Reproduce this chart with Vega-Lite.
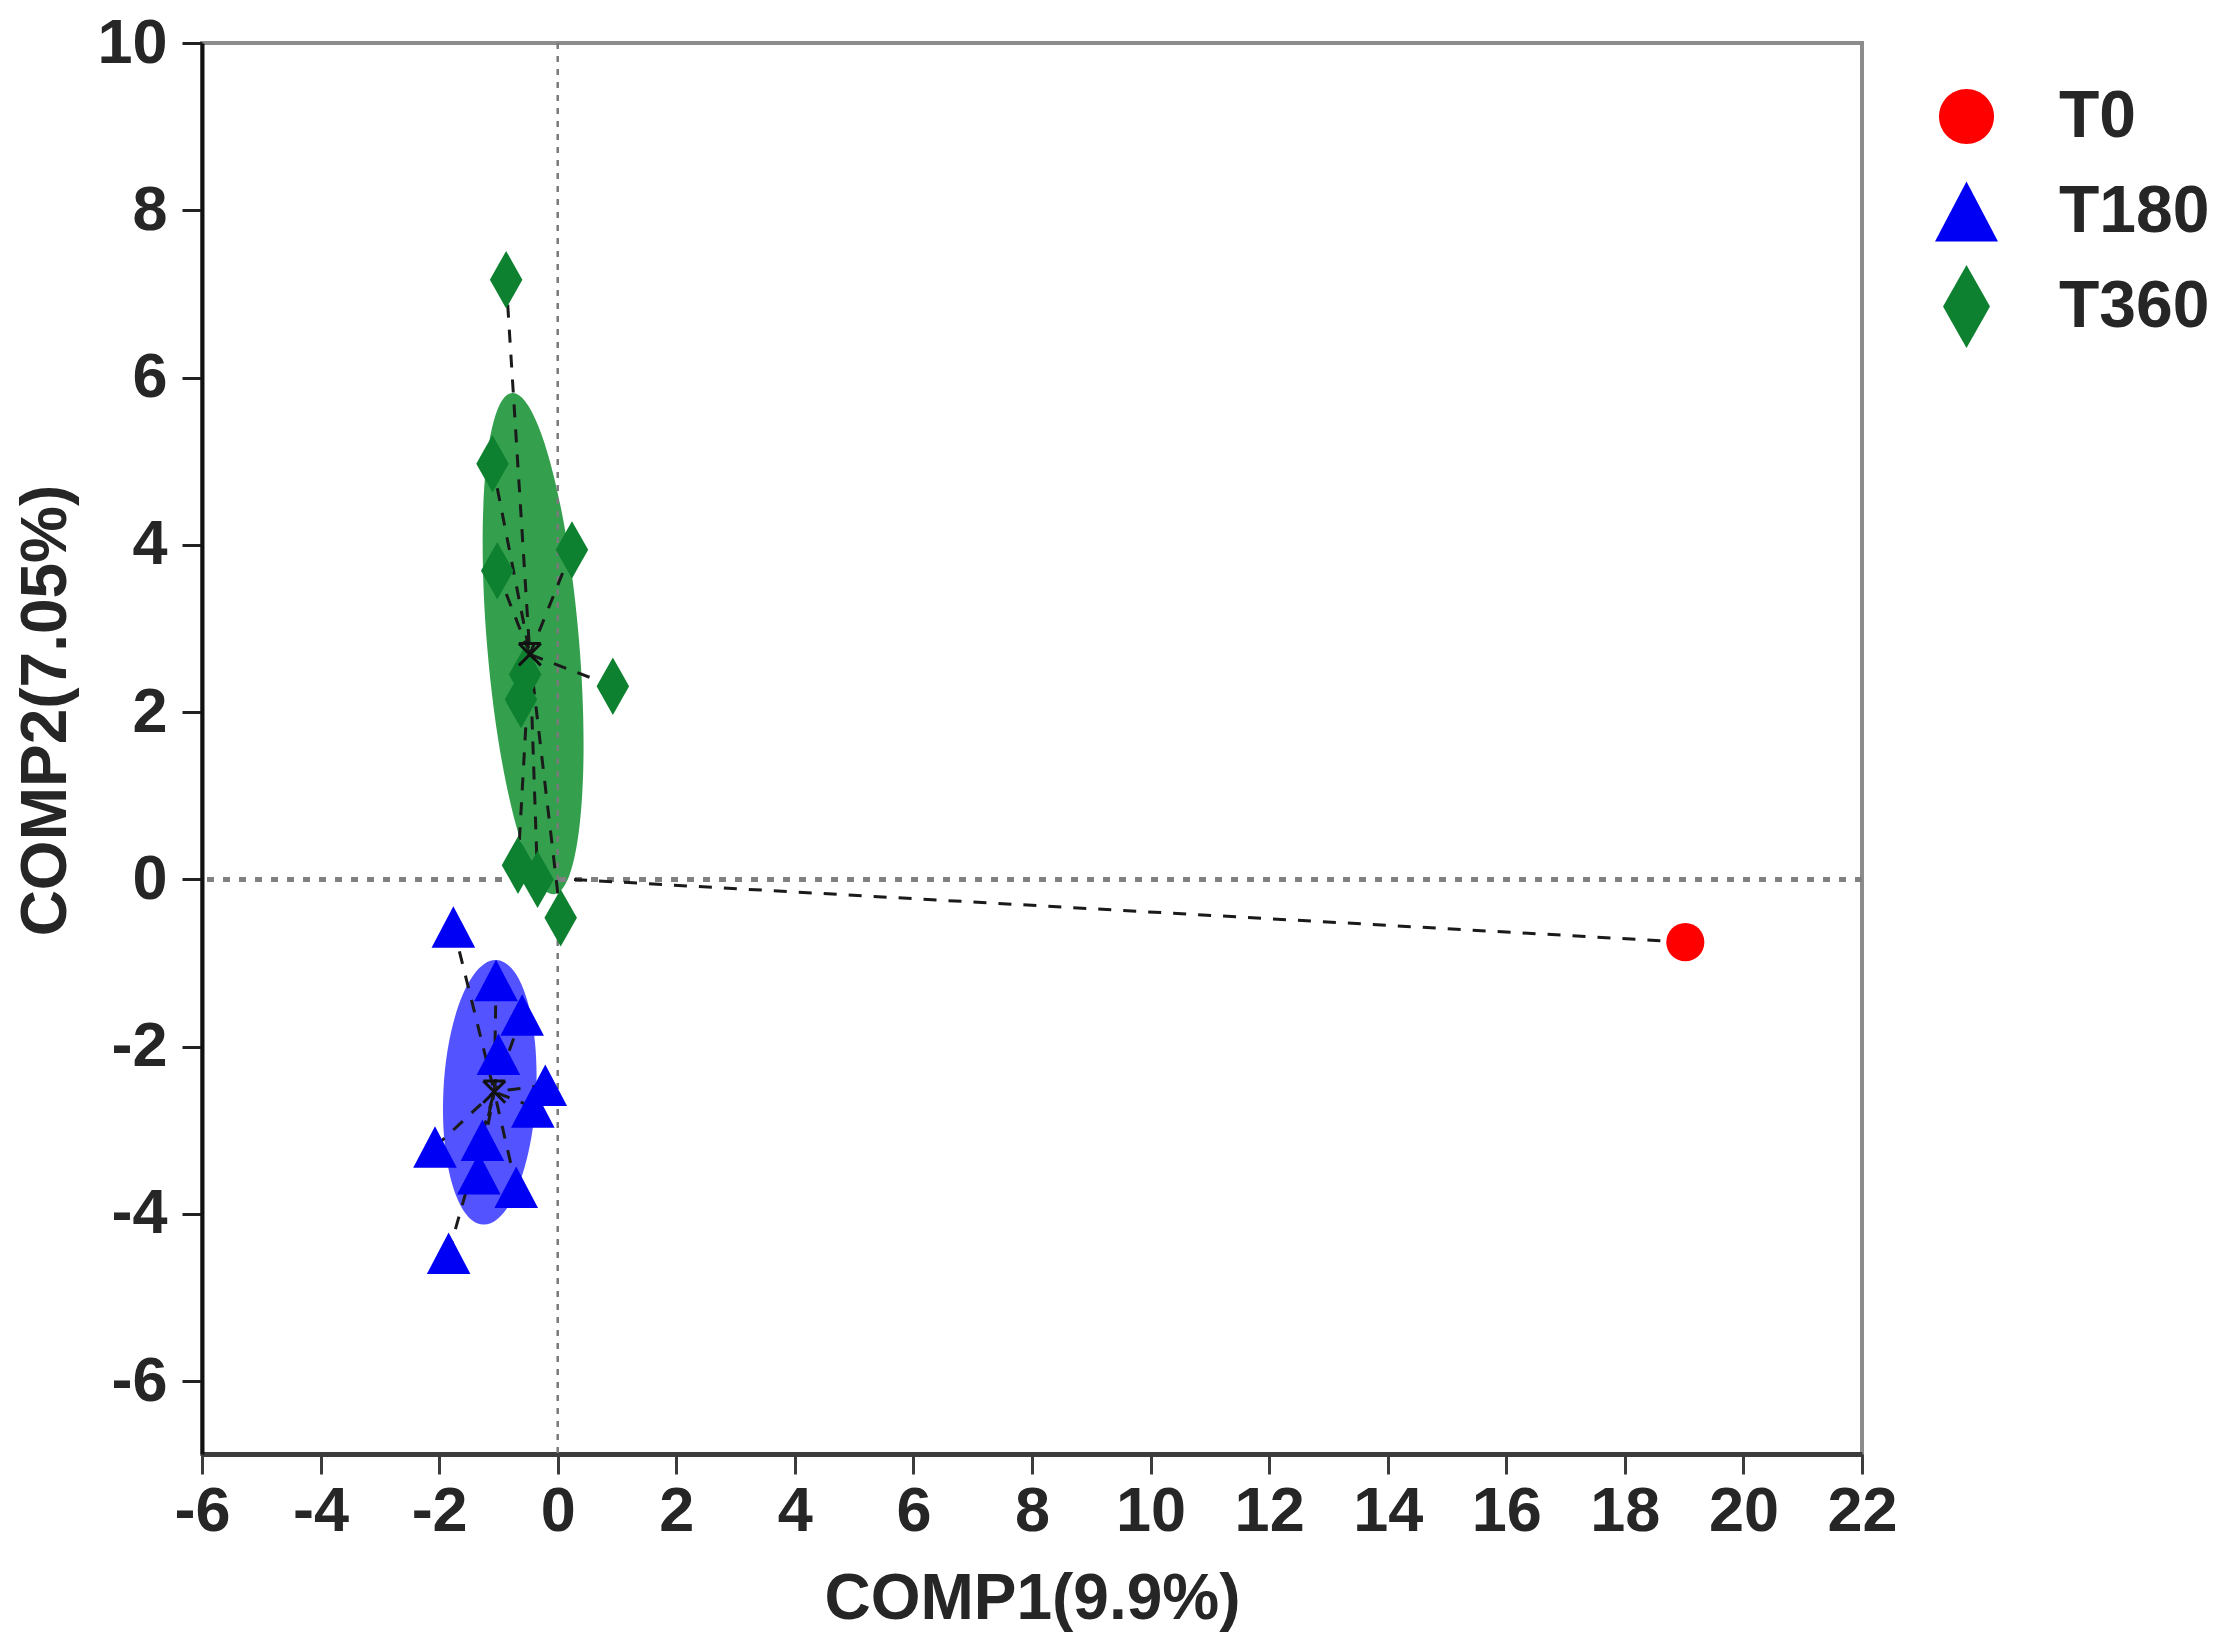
{
  "$schema": "https://vega.github.io/schema/vega-lite/v6.json",
  "width": 1660,
  "height": 1411,
  "autosize": {"type": "none"},
  "padding": {"left": 202, "top": 43, "right": 355, "bottom": 189},
  "background": "white",
  "config": {
    "view": {"stroke": "#8c8c8c", "strokeWidth": 4},
    "font": "Liberation Sans",
    "axis": {
      "grid": false,
      "labelFlush": false,
      "labelOverlap": false,
      "labelExpr": "'' + datum.value",
      "labelFont": "Liberation Sans",
      "labelFontWeight": "bold",
      "labelFontSize": 63,
      "labelColor": "#262626",
      "titleFont": "Liberation Sans",
      "titleFontWeight": "bold",
      "titleFontSize": 64,
      "titleColor": "#262626",
      "tickSize": 20,
      "tickWidth": 3
    },
    "axisX": {"domainColor": "#3c3c3c", "domainWidth": 5, "tickColor": "#3c3c3c", "labelPadding": 6, "titlePadding": 24},
    "axisY": {"domainColor": "#111111", "domainWidth": 4, "tickColor": "#222222", "labelPadding": 15},
    "legend": {
      "orient": "none",
      "legendX": 1723,
      "legendY": 32,
      "padding": 0,
      "symbolSize": 6889,
      "symbolStrokeWidth": 0,
      "labelFont": "Liberation Sans",
      "labelFontWeight": "bold",
      "labelFontSize": 66,
      "labelColor": "#262626",
      "labelOffset": 51,
      "rowPadding": 20
    }
  },
  "datasets": {
    "pts": [
      {"group": "T0", "x": 19.02, "y": -0.75, "cx": 0.23, "cy": 0.0},
      {"group": "T180", "x": -1.76, "y": -0.57, "cx": -1.07, "cy": -2.54},
      {"group": "T180", "x": -1.04, "y": -1.21, "cx": -1.07, "cy": -2.54},
      {"group": "T180", "x": -0.60, "y": -1.62, "cx": -1.07, "cy": -2.54},
      {"group": "T180", "x": -1.00, "y": -2.09, "cx": -1.07, "cy": -2.54},
      {"group": "T180", "x": -0.21, "y": -2.46, "cx": -1.07, "cy": -2.54},
      {"group": "T180", "x": -0.42, "y": -2.72, "cx": -1.07, "cy": -2.54},
      {"group": "T180", "x": -2.07, "y": -3.20, "cx": -1.07, "cy": -2.54},
      {"group": "T180", "x": -1.27, "y": -3.12, "cx": -1.07, "cy": -2.54},
      {"group": "T180", "x": -1.33, "y": -3.52, "cx": -1.07, "cy": -2.54},
      {"group": "T180", "x": -0.70, "y": -3.68, "cx": -1.07, "cy": -2.54},
      {"group": "T180", "x": -1.84, "y": -4.47, "cx": -1.07, "cy": -2.54},
      {"group": "T360", "x": -0.87, "y": 7.17, "cx": -0.47, "cy": 2.69},
      {"group": "T360", "x": -1.10, "y": 4.97, "cx": -0.47, "cy": 2.69},
      {"group": "T360", "x": 0.24, "y": 3.94, "cx": -0.47, "cy": 2.69},
      {"group": "T360", "x": -1.02, "y": 3.69, "cx": -0.47, "cy": 2.69},
      {"group": "T360", "x": 0.93, "y": 2.31, "cx": -0.47, "cy": 2.69},
      {"group": "T360", "x": -0.55, "y": 2.45, "cx": -0.47, "cy": 2.69},
      {"group": "T360", "x": -0.62, "y": 2.15, "cx": -0.47, "cy": 2.69},
      {"group": "T360", "x": -0.67, "y": 0.17, "cx": -0.47, "cy": 2.69},
      {"group": "T360", "x": -0.34, "y": 0.0, "cx": -0.47, "cy": 2.69},
      {"group": "T360", "x": 0.05, "y": -0.46, "cx": -0.47, "cy": 2.69}
    ],
    "ell": [
      {"group": "T360", "ex": -0.415, "ey": 2.82, "mx": -0.47, "my": 2.69},
      {"group": "T180", "ex": -1.146, "ey": -2.545, "mx": -1.07, "my": -2.54}
    ]
  },
  "layer": [
    {
      "data": {"name": "ell"},
      "transform": [{"filter": "datum.group === 'T360'"}],
      "mark": {
        "type": "point",
        "filled": true,
        "opacity": 0.92,
        "color": "#23983f",
        "strokeWidth": 0,
        "size": 253009,
        "angle": -4.8,
        "shape": "M0,-1C0.101,-1,0.183,-0.552,0.183,0C0.183,0.552,0.101,1,0,1C-0.101,1,-0.183,0.552,-0.183,0C-0.183,-0.552,-0.101,-1,0,-1Z"
      },
      "encoding": {
        "x": {
          "field": "ex", "type": "quantitative",
          "scale": {"domain": [-6, 22], "nice": false, "zero": false},
          "axis": {"values": [-6, -4, -2, 0, 2, 4, 6, 8, 10, 12, 14, 16, 18, 20, 22], "title": "COMP1(9.9%)", "labelExpr": "'' + datum.value", "labelFlush": false}
        },
        "y": {
          "field": "ey", "type": "quantitative",
          "scale": {"domain": [-6.87, 10], "nice": false, "zero": false},
          "axis": {"values": [-6, -4, -2, 0, 2, 4, 6, 8, 10], "labelExpr": "'' + datum.value", "labelFlush": false, "title": "COMP2(7.05%)", "titleX": -156, "titleY": 667, "titleBaseline": "middle", "titleAngle": -90}
        }
      }
    },
    {
      "data": {"name": "ell"},
      "transform": [{"filter": "datum.group === 'T180'"}],
      "mark": {
        "type": "point",
        "filled": true,
        "opacity": 0.85,
        "color": "#3535ff",
        "strokeWidth": 0,
        "size": 70225,
        "angle": 2.9,
        "shape": "M0,-1C0.193,-1,0.35,-0.552,0.35,0C0.35,0.552,0.193,1,0,1C-0.193,1,-0.35,0.552,-0.35,0C-0.35,-0.552,-0.193,-1,0,-1Z"
      },
      "encoding": {
        "x": {"field": "ex", "type": "quantitative", "title": "COMP1(9.9%)"},
        "y": {"field": "ey", "type": "quantitative", "title": "COMP2(7.05%)"}
      }
    },
    {
      "data": {"values": [{"v": 0}]},
      "mark": {"type": "rule", "color": "#7a7a7a", "strokeWidth": 2.5, "strokeDash": [6, 7]},
      "encoding": {"x": {"field": "v", "type": "quantitative", "title": "COMP1(9.9%)"}}
    },
    {
      "data": {"values": [{"v": 0}]},
      "mark": {"type": "rule", "color": "#808080", "strokeWidth": 5, "strokeDash": [7, 9]},
      "encoding": {"y": {"field": "v", "type": "quantitative", "title": "COMP2(7.05%)"}}
    },
    {
      "data": {"name": "pts"},
      "mark": {"type": "rule", "color": "#1a1a1a", "strokeWidth": 3, "strokeDash": [13, 12]},
      "encoding": {
        "x": {"field": "x", "type": "quantitative", "title": "COMP1(9.9%)"},
        "y": {"field": "y", "type": "quantitative", "title": "COMP2(7.05%)"},
        "x2": {"field": "cx"},
        "y2": {"field": "cy"}
      }
    },
    {
      "data": {"name": "pts"},
      "mark": {"type": "point", "filled": true, "opacity": 1, "size": 3300, "strokeWidth": 0},
      "encoding": {
        "x": {"field": "x", "type": "quantitative", "title": "COMP1(9.9%)"},
        "y": {"field": "y", "type": "quantitative", "title": "COMP2(7.05%)"},
        "color": {
          "field": "group", "type": "nominal",
          "scale": {"domain": ["T0", "T180", "T360"], "range": ["#ff0000", "#0000f5", "#0e8130"]},
          "legend": {"title": null}
        },
        "shape": {
          "field": "group", "type": "nominal",
          "scale": {
            "domain": ["T0", "T180", "T360"],
            "range": [
              "M-0.663,0C-0.663,-0.366,-0.366,-0.663,0,-0.663C0.366,-0.663,0.663,-0.366,0.663,0C0.663,0.366,0.366,0.663,0,0.663C-0.366,0.663,-0.663,0.366,-0.663,0Z",
              "M0,-0.723L0.759,0.723L-0.759,0.723Z",
              "M0,-1L0.566,0L0,1L-0.566,0Z"
            ]
          },
          "legend": {"title": null}
        }
      }
    },
    {
      "data": {"name": "ell"},
      "mark": {
        "type": "point",
        "filled": false,
        "opacity": 1,
        "color": "#111111",
        "strokeWidth": 3,
        "size": 480,
        "shape": "M-1,-1L1,1M1,-1L-1,1M-1,-1L1,-1"
      },
      "encoding": {
        "x": {"field": "mx", "type": "quantitative", "title": "COMP1(9.9%)"},
        "y": {"field": "my", "type": "quantitative", "title": "COMP2(7.05%)"}
      }
    }
  ]
}
